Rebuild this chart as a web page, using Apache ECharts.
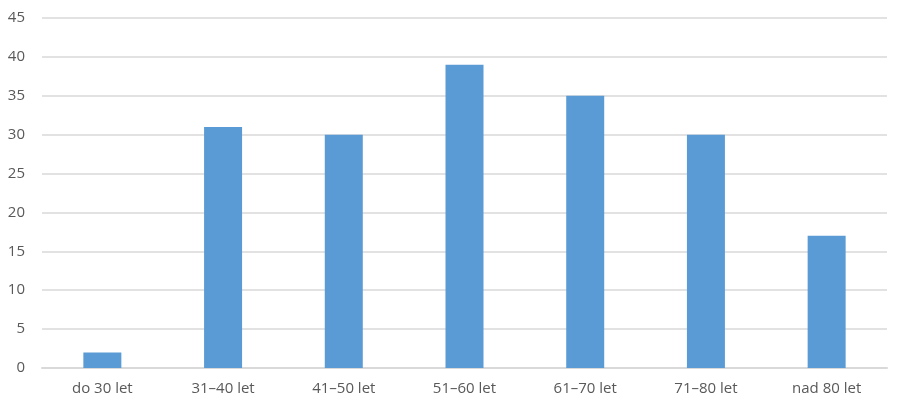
<!DOCTYPE html>
<html><head><meta charset="utf-8">
<script src="https://cdn.jsdelivr.net/npm/echarts@6/dist/echarts.min.js"></script>
<style>html,body{margin:0;padding:0;background:#fff}#c{width:902px;height:412px}</style>
</head><body><div id="c"></div>
<script>
const categories = ["do 30 let","31–40 let","41–50 let","51–60 let","61–70 let","71–80 let","nad 80 let"];
const values = [2,31,30,39,35,30,17];
const chart = echarts.init(document.getElementById('c'), null, {renderer:'canvas'});
chart.setOption({
  animation:false,
  grid:{left:42,right:15,top:18,bottom:44},
  xAxis:{type:'category',data:categories,
    axisLine:{lineStyle:{color:'#d9d9d9',width:2}},axisTick:{show:false},
    axisLabel:{color:'#595959',fontSize:15,fontFamily:'Open Sans, sans-serif',margin:13}},
  yAxis:{type:'value',min:0,max:45,interval:5,
    axisLine:{show:false},axisTick:{show:false},
    splitLine:{lineStyle:{color:'#d9d9d9',width:1.5}},
    axisLabel:{color:'#595959',fontSize:15,fontFamily:'Open Sans, sans-serif',margin:17}},
  series:[{type:'bar',data:values,barWidth:38,itemStyle:{color:'#5b9bd5'}}]
});
</script></body></html>
